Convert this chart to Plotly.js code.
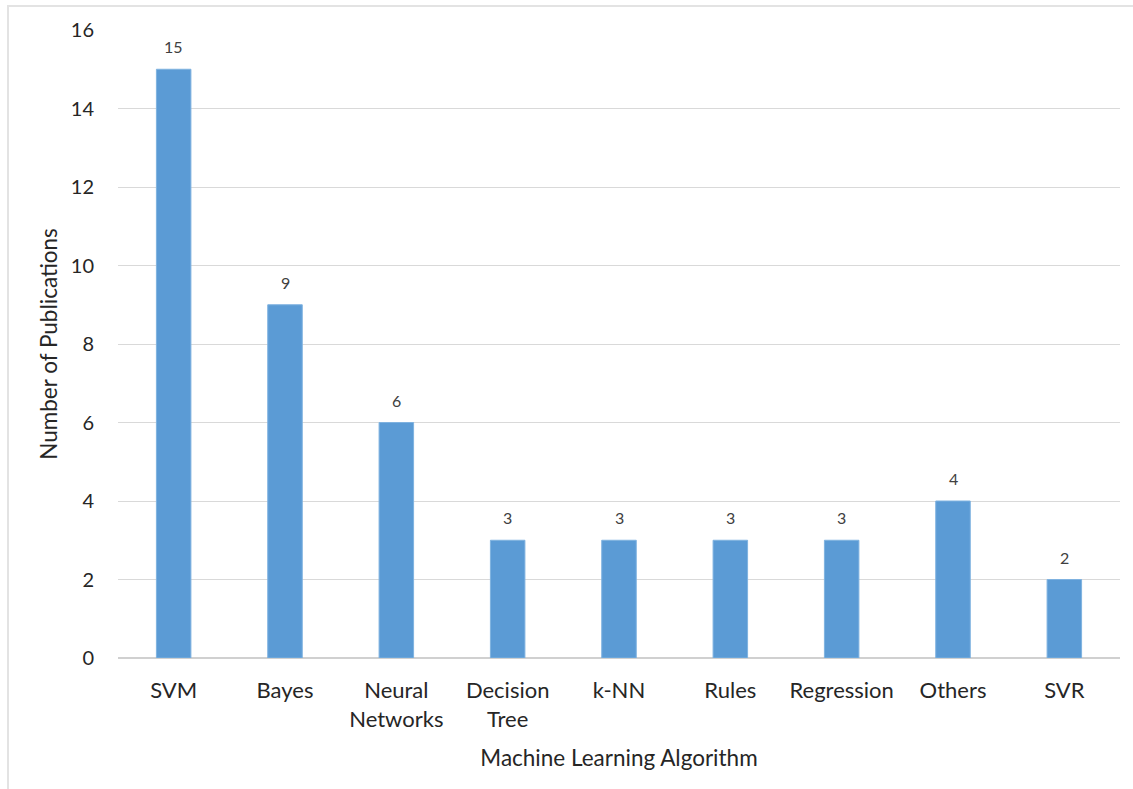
<!DOCTYPE html>
<html>
<head>
<meta charset="utf-8">
<script src="https://cdn.plot.ly/plotly-3.0.1.min.js"></script>
<style>
html,body{margin:0;padding:0;overflow:hidden;background:#fff;}
#chart{width:1133px;height:789px;position:relative;}
#frame{position:absolute;left:7px;top:5px;width:1300px;height:1000px;border:2px solid #e3e3e3;pointer-events:none;}
</style>
</head>
<body>
<div id="chart"></div>
<div id="frame"></div>
<script>
const categories = ["SVM","Bayes","Neural<br>Networks","Decision<br>Tree","k-NN","Rules","Regression","Others","SVR"];
const publications = [15, 9, 6, 3, 3, 3, 3, 4, 2];
const yTicks = [0, 2, 4, 6, 8, 10, 12, 14, 16];

const font = "Lato, 'Open Sans', sans-serif";
const textColor = "#262626";

const trace = {
  type: "bar",
  x: categories,
  y: publications,
  marker: {color: "#5B9BD5", line: {color: "#7FB2E0", width: 1}},
  hoverinfo: "x+y"
};

const annotations = categories.map((c, i) => ({
  x: c, y: publications[i], xref: "x", yref: "y",
  text: String(publications[i]), showarrow: false,
  yanchor: "bottom", yshift: 11,
  font: {family: font, size: 16, color: "#404040"}
}));

const layout = {
  width: 1133, height: 789,
  margin: {l: 118, r: 13, t: 30, b: 131},
  paper_bgcolor: "#fff", plot_bgcolor: "#fff",
  bargap: 0.69,
  showlegend: false,
  font: {family: font, color: textColor},
  xaxis: {
    type: "category",
    tickfont: {family: font, size: 22, color: textColor},
    ticks: "", showgrid: false, showline: false, zeroline: false,
    ticklabelstandoff: 17,
    title: {text: "Machine Learning Algorithm", font: {family: font, size: 22.5, color: textColor}, standoff: 19}
  },
  yaxis: {
    range: [0, 16], tickvals: yTicks, ticktext: yTicks.map(String),
    tickfont: {family: font, size: 20, color: textColor},
    ticks: "", showline: false,
    gridcolor: "#d9d9d9", gridwidth: 1,
    zeroline: true, zerolinecolor: "#d0d0d0", zerolinewidth: 1.5,
    ticklabelstandoff: 23,
    title: {text: "Number of Publications", font: {family: font, size: 22.5, color: textColor}, standoff: 6}
  },
  annotations: annotations
};

Plotly.newPlot("chart", [trace], layout, {displayModeBar: false, staticPlot: true});
</script>
</body>
</html>
